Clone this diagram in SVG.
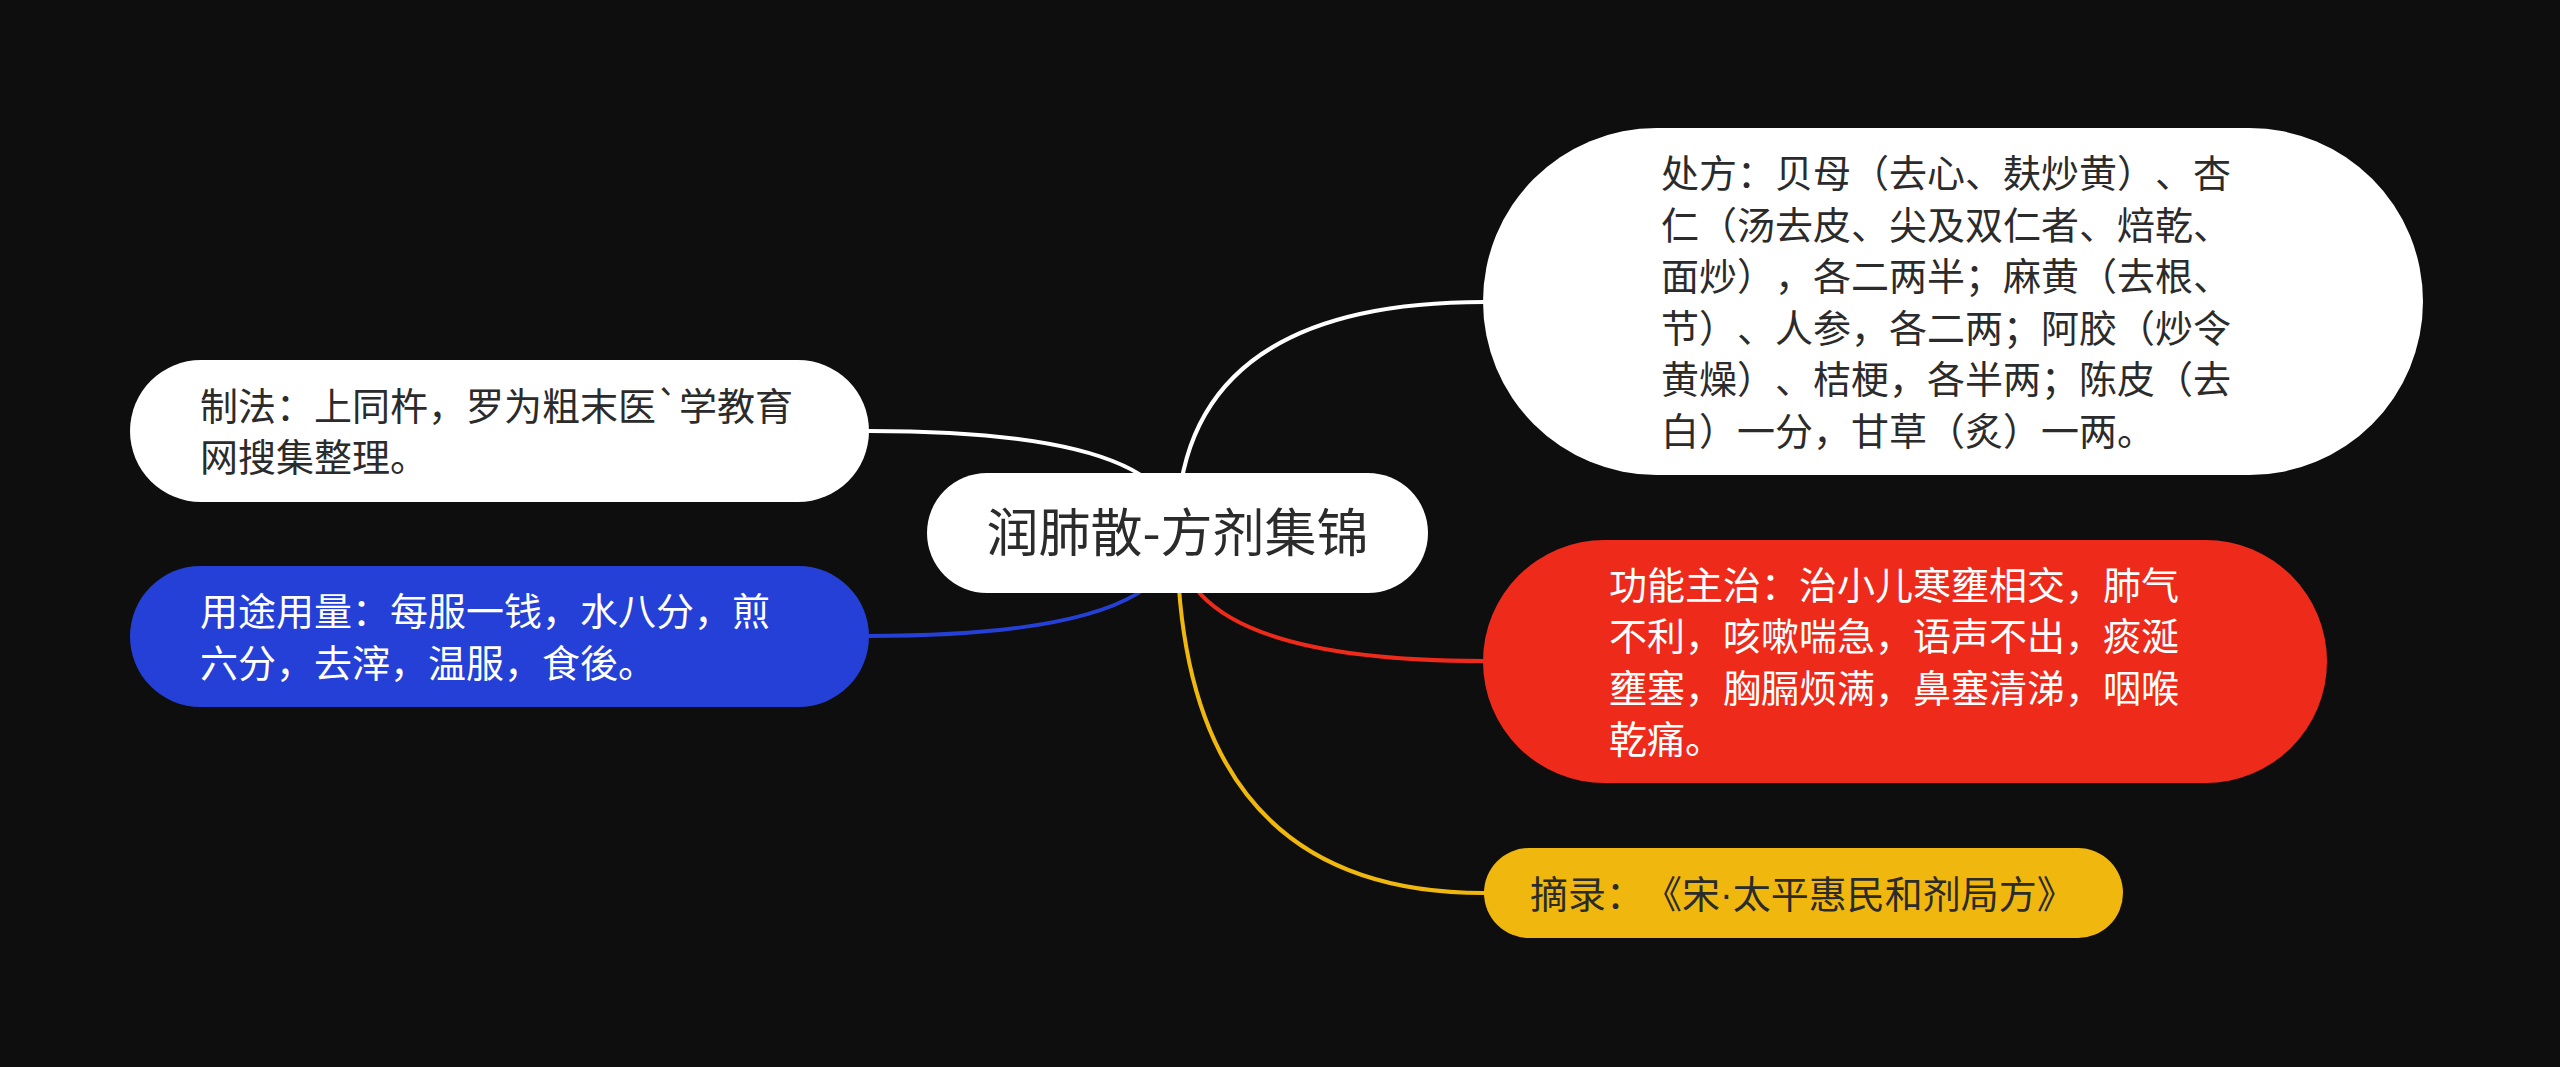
<svg xmlns="http://www.w3.org/2000/svg" width="2560" height="1067" viewBox="0 0 2560 1067">
<style>
text{text-spacing-trim:space-all}
.t{font-family:"Noto Sans CJK SC","Noto Sans",sans-serif;font-size:38px}
.dark{fill:#2b2b2b}
.light{fill:#ffffff}
.c{fill:none;stroke-width:4;stroke-linecap:round}
.dot{font-family:"Liberation Sans",sans-serif}
</style>
<rect x="0" y="0" width="2560" height="1067" fill="#0e0e0e"/>
<g id="connectors">
<path class="c" stroke="#ffffff" d="M1177 533 Q1177 302 1484 302"/>
<path class="c" stroke="#ee2a1b" d="M1177 533 Q1177 661 1484 661"/>
<path class="c" stroke="#f0b80e" d="M1177 533 Q1177 893 1484 893"/>
<path class="c" stroke="#ffffff" d="M1177 533 Q1177 431 869 431"/>
<path class="c" stroke="#2440d6" d="M1177 533 Q1177 636 869 636"/>
</g>
<g id="root">
<rect x="927" y="473" width="501" height="120" rx="60" fill="#ffffff"/>
<text class="dark" x="1177.5" y="552" text-anchor="middle" style="font-family:'Noto Sans CJK SC','Noto Sans',sans-serif;font-size:52px">润肺散-方剂集锦</text>
</g>
<g id="node-chufang">
<rect x="1483" y="128" width="940" height="347" rx="173.5" fill="#ffffff"/>
<text class="t dark">
<tspan x="1661" y="187">处方：贝母（去心、麸炒黄）、杏</tspan>
<tspan x="1661" y="238.5">仁（汤去皮、尖及双仁者、焙乾、</tspan>
<tspan x="1661" y="290">面炒），各二两半；麻黄（去根、</tspan>
<tspan x="1661" y="341.5">节）、人参，各二两；阿胶（炒令</tspan>
<tspan x="1661" y="393">黄燥）、桔梗，各半两；陈皮（去</tspan>
<tspan x="1661" y="444.5">白）一分，甘草（炙）一两。</tspan>
</text>
</g>
<g id="node-gongneng">
<rect x="1483" y="540" width="844" height="243" rx="121.5" fill="#ee2a1b"/>
<text class="t light">
<tspan x="1609" y="598.5">功能主治：治小儿寒壅相交，肺气</tspan>
<tspan x="1609" y="650">不利，咳嗽喘急，语声不出，痰涎</tspan>
<tspan x="1609" y="701.5">壅塞，胸膈烦满，鼻塞清涕，咽喉</tspan>
<tspan x="1609" y="753">乾痛。</tspan>
</text>
</g>
<g id="node-zhailu">
<rect x="1484" y="848" width="639" height="90" rx="45" fill="#f0b80e"/>
<text class="t dark" x="1530" y="907.5">摘录：《宋<tspan class="dot">·</tspan>太平惠民和剂局方》</text>
</g>
<g id="node-zhifa">
<rect x="130" y="360" width="739" height="142" rx="71" fill="#ffffff"/>
<text class="t dark">
<tspan x="200" y="419.5">制法：上同杵，罗为粗末医`学教育</tspan>
<tspan x="200" y="471">网搜集整理。</tspan>
</text>
</g>
<g id="node-yongtu">
<rect x="130" y="566" width="739" height="141" rx="70.5" fill="#2440d6"/>
<text class="t light">
<tspan x="200" y="625">用途用量：每服一钱，水八分，煎</tspan>
<tspan x="200" y="676.5">六分，去滓，温服，食後。</tspan>
</text>
</g>
</svg>
